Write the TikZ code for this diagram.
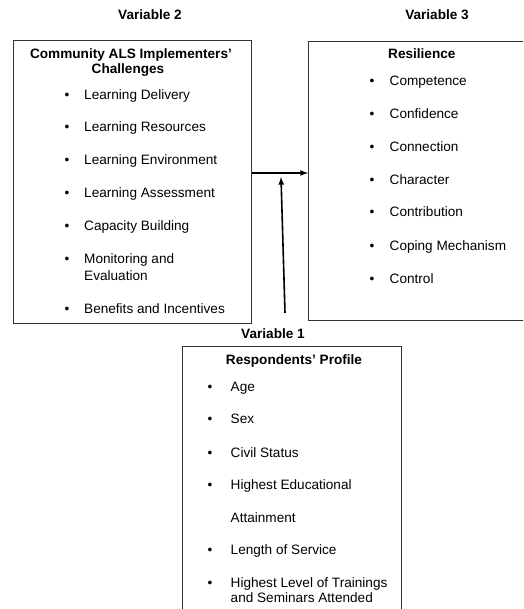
\documentclass[tikz,border=0pt]{standalone}
\usepackage{fontspec}
\setmainfont{Liberation Sans}
\usetikzlibrary{arrows,positioning}

% bullet followed by a tab stop
\newcommand\bul[1][19.5pt]{\makebox[#1][l]{\textbullet}}

\begin{document}
\begin{tikzpicture}[
  x=1pt, y=-1pt,
  >=latex,
  every node/.style={inner sep=0pt, font=\fontsize{13.6}{16}\selectfont},
  box/.style={draw=black!80, line width=0.9pt, anchor=north west},
  frame/.style={draw=black!80, line width=0.9pt},
  head/.style={anchor=base, font=\fontsize{13.6}{16}\selectfont\bfseries},
  txt/.style={anchor=base west},
  link/.style={->, line width=1.6pt},
  ]
  \useasboundingbox (0,0) rectangle (523,609);

  % the three boxes; two of them run off the page
  \node[box, minimum width=238, minimum height=283] (v2) at (13,40) {};
  \node[anchor=north west, minimum width=300, minimum height=279] (v3) at (308,41) {};
  \node[anchor=north west, minimum width=219, minimum height=300] (v1) at (182,346) {};
  \begin{scope}
    \clip (0,0) rectangle (523,609);
    \draw[frame] (v3.north east) -- (v3.north west) -- (v3.south west) -- (v3.south east);
    \draw[frame] (v1.south west) -- (v1.north west) -- (v1.north east) -- (v1.south east);
  \end{scope}

  \node[head] (v2lab) at (150,20) {Variable 2};
  \node[head] (v3lab) at (437,20) {Variable 3};
  \node[head] (v1lab) at (273,338) {Variable 1};

  % Variable 2
  \node[head] (v2t1) at (131,59) {Community ALS Implementers'};
  \node[head] (v2t2) at (128,74) {Challenges};
  \node[txt] (v2a) at (64.5,100) {\bul Learning Delivery};
  \node[txt] (v2b) at (64.5,132) {\bul Learning Resources};
  \node[txt] (v2c) at (64.5,165) {\bul Learning Environment};
  \node[txt] (v2d) at (64.5,198) {\bul Learning Assessment};
  \node[txt] (v2e) at (64.5,231) {\bul Capacity Building};
  \node[txt] (v2f) at (64.5,263) {\bul Monitoring and};
  \node[txt] (v2f2) at (84,280) {Evaluation};
  \node[txt] (v2g) at (64.5,313) {\bul Benefits and Incentives};

  % Variable 3
  \node[head, anchor=base west] (v3t) at (388,59) {Resilience};
  \node[txt] (v3a) at (369.5,86) {\bul[20pt]Competence};
  \node[txt] (v3b) at (369.5,119) {\bul[20pt]Confidence};
  \node[txt] (v3c) at (369.5,152) {\bul[20pt]Connection};
  \node[txt] (v3d) at (369.5,185) {\bul[20pt]Character};
  \node[txt] (v3e) at (369.5,217) {\bul[20pt]Contribution};
  \node[txt] (v3f) at (369.5,251) {\bul[20pt]Coping Mechanism};
  \node[txt] (v3g) at (369.5,283) {\bul[20pt]Control};

  % Variable 1
  \node[head] (v1t) at (294,364) {Respondents' Profile};
  \node[txt] (v1a) at (207.5,391) {\bul[23pt]Age};
  \node[txt] (v1b) at (207.5,423) {\bul[23pt]Sex};
  \node[txt] (v1c) at (207.5,457) {\bul[23pt]Civil Status};
  \node[txt] (v1d) at (207.5,489) {\bul[23pt]Highest Educational};
  \node[txt] (v1d2) at (230.5,522) {Attainment};
  \node[txt] (v1e) at (207.5,554) {\bul[23pt]Length of Service};
  \node[txt] (v1f) at (207.5,587) {\bul[23pt]Highest Level of Trainings};
  \node[txt] (v1f2) at (230.5,602) {and Seminars Attended};

  % arrows
  \coordinate (join) at (281,173);
  \coordinate (meet) at (281,177);
  \coordinate (foot) at (285,313);
  \draw [link] (v2.east |- join) -- (v3.west |- join);
  \draw [link] (foot) -- (meet);
\end{tikzpicture}
\end{document}
